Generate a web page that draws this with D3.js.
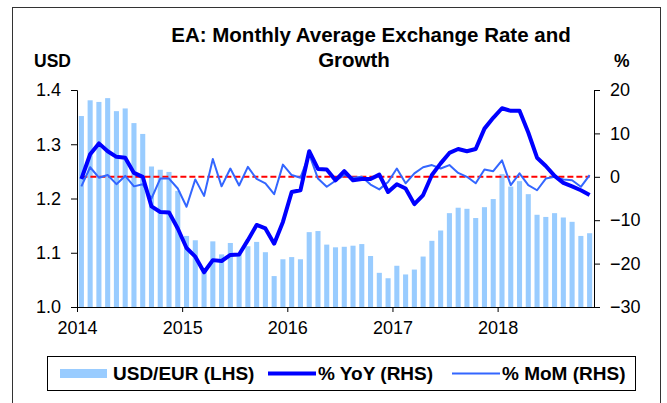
<!DOCTYPE html>
<html>
<head>
    <meta charset="utf-8">
    <style>
        body {
            margin: 0;
            background: #fff;
            font-family: "Liberation Sans", Arial, sans-serif;
        }
        svg {
            display: block;
        }
        .axis .domain,
        .axis .tick line {
            stroke: #000;
        }
        .axis .tick text {
            font-size: 18px;
            fill: #000;
            font-family: "Liberation Sans", Arial, sans-serif;
        }
        .legend text {
            font-size: 19px;
            font-weight: bold;
        }
    </style>
</head>
<body>
    <svg width="667" height="403"></svg>

<script src="https://d3js.org/d3.v7.min.js"></script>
<script>
    // monthly categories, Jan 2014 .. Nov 2018
    let months = d3.timeMonths(new Date(2014, 0, 1), new Date(2018, 11, 1));

    // USD per EUR, monthly average (LHS)
    let usdEur = [
        1.352, 1.381, 1.378, 1.385, 1.361, 1.366, 1.339, 1.319, 1.259, 1.253, 1.249, 1.214,
        1.131, 1.123, 1.066, 1.121, 1.097, 1.118, 1.097, 1.112, 1.120, 1.101, 1.057, 1.088,
        1.092, 1.088, 1.138, 1.140, 1.115, 1.110, 1.111, 1.113, 1.116, 1.094, 1.063, 1.053,
        1.076, 1.060, 1.069, 1.093, 1.122, 1.141, 1.173, 1.183, 1.181, 1.164, 1.184, 1.199,
        1.245, 1.222, 1.232, 1.208, 1.170, 1.166, 1.173, 1.165, 1.157, 1.131, 1.136
    ];

    // % YoY (RHS)
    let yoy = [
        -0.5, 5.2, 7.7, 5.9, 4.6, 4.4, 0.9, 0.0, -6.8, -8.1, -8.2, -11.9,
        -16.4, -18.4, -22.0, -19.2, -19.4, -18.0, -17.9, -14.6, -11.1, -11.9, -15.4, -10.4,
        -3.5, -3.1, 5.9, 1.8, 1.7, -0.8, 1.3, -0.8, -0.5, -0.5, 0.5, -3.5,
        -1.7, -2.7, -6.3, -4.2, 0.4, 3.1, 5.5, 6.4, 5.9, 6.4, 11.1, 13.6,
        15.8, 15.2, 15.2, 10.2, 4.4, 2.5, 0.2, -1.4, -2.2, -3.1, -4.2
    ];

    // % MoM (RHS)
    let mom = [
        -2.2, 2.2, -0.2, 0.4, -1.7, 0.2, -2.2, -1.7, -5.0, -0.4, -0.4, -2.7,
        -6.9, -0.6, -4.4, 4.1, -2.2, 1.9, -2.0, 2.3, -0.5, -1.5, -4.0, 2.8,
        0.4, -0.2, 5.2, -0.4, -2.3, -0.9, 0.4, -0.2, 0.0, -1.8, -2.9, -1.2,
        1.9, -1.5, 0.8, 2.2, 2.7, 1.9, 2.7, 0.9, 0.0, -1.5, 1.7, 1.3,
        3.8, -1.9, 0.8, -1.9, -3.1, -0.4, 0.0, -0.6, -0.8, -2.3, 0.4
    ];

    let leftTicks = [1.0, 1.1, 1.2, 1.3, 1.4];
    let rightTicks = [-30, -20, -10, 0, 10, 20];
    let yearLabels = ["2014", "2015", "2016", "2017", "2018"];

    let svg = d3.select("svg");
    let margin = { top: 90, right: 73, bottom: 96, left: 77 };
    let width = 667, height = 403;
    let plotBottom = height - margin.bottom;

    // outer frame
    svg.append("rect")
        .attr("x", 12.5).attr("y", 7.5)
        .attr("width", 648).attr("height", 420)
        .attr("fill", "#fff")
        .attr("stroke", "#333");

    let data = months.map((m, i) => ({ m: m, usd: usdEur[i], yoy: yoy[i], mom: mom[i] }));

    let x = d3.scaleBand()
        .domain(d3.range(months.length))
        .range([margin.left, width - margin.right]);

    // position scale for the year ticks (month index)
    let xIdx = d3.scaleLinear()
        .domain([0, months.length])
        .range([margin.left, width - margin.right]);

    let yL = d3.scaleLinear().domain([1.0, 1.4]).range([plotBottom, margin.top]);
    let yR = d3.scaleLinear().domain([-30, 20]).range([plotBottom, margin.top]);

    // bars
    let barW = x.bandwidth() * 0.58;
    svg.append("g")
        .selectAll("rect")
        .data(data)
        .join("rect")
        .attr("x", (d, i) => x(i) + (x.bandwidth() - barW) / 2)
        .attr("width", barW)
        .attr("y", d => yL(d.usd))
        .attr("height", d => plotBottom - yL(d.usd))
        .attr("fill", "#99CCFF");

    let cx = (d, i) => x(i) + x.bandwidth() / 2;

    // zero line
    svg.append("path")
        .datum(data)
        .attr("d", d3.line().x(cx).y(yR(0)))
        .attr("fill", "none")
        .attr("stroke", "#FF0000")
        .attr("stroke-width", 2)
        .attr("stroke-dasharray", "6,3");

    // MoM
    svg.append("path")
        .datum(data)
        .attr("d", d3.line().x(cx).y(d => yR(d.mom)))
        .attr("fill", "none")
        .attr("stroke", "#3366FF")
        .attr("stroke-width", 2)
        .attr("stroke-linejoin", "round");

    // YoY
    svg.append("path")
        .datum(data)
        .attr("d", d3.line().x(cx).y(d => yR(d.yoy)))
        .attr("fill", "none")
        .attr("stroke", "#0000FF")
        .attr("stroke-width", 4)
        .attr("stroke-linejoin", "round");

    // axes
    svg.append("g")
        .attr("class", "axis")
        .attr("transform", `translate(${margin.left},0)`)
        .call(d3.axisLeft(yL).tickValues(leftTicks).tickFormat(d3.format(".1f")).tickSize(6).tickPadding(10));

    svg.append("g")
        .attr("class", "axis")
        .attr("transform", `translate(${width - margin.right},0)`)
        .call(d3.axisRight(yR).tickValues(rightTicks).tickSize(6).tickPadding(10));

    svg.append("g")
        .attr("class", "axis")
        .attr("transform", `translate(0,${plotBottom})`)
        .call(d3.axisBottom(xIdx).tickValues([0, 12, 24, 36, 48])
            .tickFormat((d, i) => yearLabels[i]).tickSize(5).tickPadding(9).tickSizeOuter(0));

    svg.selectAll(".axis .domain").attr("stroke-width", 1);

    // titles
    let title = svg.append("g").attr("font-weight", "bold").attr("fill", "#000");
    title.append("text").attr("x", 371).attr("y", 42).attr("text-anchor", "middle")
        .attr("font-size", 20.5).text("EA: Monthly Average Exchange Rate and");
    title.append("text").attr("x", 354).attr("y", 67).attr("text-anchor", "middle")
        .attr("font-size", 20.5).text("Growth");
    title.append("text").attr("x", 34).attr("y", 67).attr("font-size", 17.5).text("USD");
    title.append("text").attr("x", 614).attr("y", 67).attr("font-size", 17.5).text("%");

    // legend
    let legend = svg.append("g").attr("class", "legend");
    legend.append("rect")
        .attr("x", 47.5).attr("y", 356.5)
        .attr("width", 588).attr("height", 34)
        .attr("fill", "#fff").attr("stroke", "#000");

    legend.append("rect").attr("x", 60).attr("y", 369).attr("width", 47).attr("height", 9).attr("fill", "#99CCFF");
    legend.append("text").attr("x", 113).attr("y", 380).text("USD/EUR (LHS)");

    legend.append("line").attr("x1", 268).attr("x2", 316).attr("y1", 373.5).attr("y2", 373.5)
        .attr("stroke", "#0000FF").attr("stroke-width", 4);
    legend.append("text").attr("x", 318).attr("y", 380).text("% YoY (RHS)");

    legend.append("line").attr("x1", 452).attr("x2", 500).attr("y1", 373.5).attr("y2", 373.5)
        .attr("stroke", "#3366FF").attr("stroke-width", 2);
    legend.append("text").attr("x", 502).attr("y", 380).text("% MoM (RHS)");
</script>
</body>
</html>
